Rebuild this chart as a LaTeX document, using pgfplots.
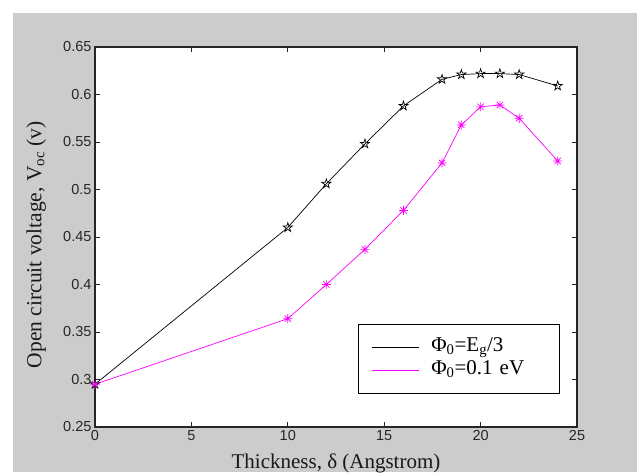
\documentclass[border=0pt]{standalone}
\usepackage{fontspec}
\setmainfont{Liberation Serif}
\newfontfamily\arialfont{Liberation Sans}
\usepackage{pgfplots}
\pgfplotsset{compat=1.18}
\definecolor{figgray}{RGB}{204,204,204}
\definecolor{mmag}{RGB}{255,0,255}
\pgfdeclareplotmark{pentagram}{%
  \pgfpathmoveto{\pgfpointpolar{90}{\pgfplotmarksize}}%
  \pgfpathlineto{\pgfpointpolar{126}{0.382\pgfplotmarksize}}%
  \pgfpathlineto{\pgfpointpolar{162}{\pgfplotmarksize}}%
  \pgfpathlineto{\pgfpointpolar{198}{0.382\pgfplotmarksize}}%
  \pgfpathlineto{\pgfpointpolar{234}{\pgfplotmarksize}}%
  \pgfpathlineto{\pgfpointpolar{270}{0.382\pgfplotmarksize}}%
  \pgfpathlineto{\pgfpointpolar{306}{\pgfplotmarksize}}%
  \pgfpathlineto{\pgfpointpolar{342}{0.382\pgfplotmarksize}}%
  \pgfpathlineto{\pgfpointpolar{18}{\pgfplotmarksize}}%
  \pgfpathlineto{\pgfpointpolar{54}{0.382\pgfplotmarksize}}%
  \pgfpathclose
  \pgfusepathqstroke}
\pgfdeclareplotmark{mast}{%
  \pgfpathmoveto{\pgfqpoint{-\pgfplotmarksize}{0pt}}\pgfpathlineto{\pgfqpoint{\pgfplotmarksize}{0pt}}%
  \pgfpathmoveto{\pgfqpoint{0pt}{-\pgfplotmarksize}}\pgfpathlineto{\pgfqpoint{0pt}{\pgfplotmarksize}}%
  \pgfpathmoveto{\pgfqpoint{-0.7\pgfplotmarksize}{-0.7\pgfplotmarksize}}\pgfpathlineto{\pgfqpoint{0.7\pgfplotmarksize}{0.7\pgfplotmarksize}}%
  \pgfpathmoveto{\pgfqpoint{-0.7\pgfplotmarksize}{0.7\pgfplotmarksize}}\pgfpathlineto{\pgfqpoint{0.7\pgfplotmarksize}{-0.7\pgfplotmarksize}}%
  \pgfusepathqstroke}
\begin{document}
\begin{tikzpicture}
\useasboundingbox (0,0) rectangle (637pt,472pt);
\fill[white] (0,0) rectangle (637pt,472pt);
\fill[figgray] (13pt,0) rectangle (637pt,459pt);
\begin{axis}[
  at={(95pt,45pt)}, anchor=south west,
  scale only axis, width=482pt, height=380pt,
  xmin=0, xmax=25, ymin=0.25, ymax=0.65,
  xtick={0,5,10,15,20,25},
  ytick={0.25,0.3,0.35,0.4,0.45,0.5,0.55,0.6,0.65},
  axis background/.style={fill=white},
  axis line style={line width=1.2pt, black!85},
  major tick length=5pt,
  tick style={line width=0.8pt, black!85},
  /pgf/number format/assume math mode=true,
  yticklabel style={/pgf/number format/fixed, /pgf/number format/precision=2},
  ticklabel style={font=\arialfont\fontsize{14.5}{16}\selectfont, text=black!85},
  xlabel={Thickness, δ (Angstrom)},
  ylabel={Open circuit voltage, V\textsubscript{oc} (v)},
  label style={font=\fontsize{21}{24}\selectfont, text=black!90},
  xlabel style={at={(axis description cs:0.5,0)}, anchor=center, yshift=-36pt},
  ylabel style={at={(axis description cs:-0.122,0.48)}, anchor=center, font=\fontsize{21.5}{24}\selectfont},
  legend image code/.code={\draw[#1] (0pt,0pt) -- (47pt,0pt);},
  legend cell align=left,
  legend style={at={(axis description cs:0.9647,0.0868)}, anchor=south east,
    draw=black, line width=1.2pt, fill=white,
    font=\fontsize{21}{24}\selectfont,
    inner xsep=13pt, inner ysep=13pt, row sep=3pt,
    nodes={line width=0.8pt, inner xsep=3pt, inner ysep=0pt, text height=14pt, text depth=6pt},
    /tikz/every odd column/.append style={column sep=9pt},
    /tikz/every even column/.append style={text width=112pt}},
]
\addplot[black, line width=0.7pt, mark=pentagram, mark size=4.8pt, mark options={line width=0.7pt}] coordinates {
 (0,0.295) (10,0.460) (12,0.506) (14,0.548) (16,0.588) (18,0.616) (19,0.621) (20,0.622) (21,0.622) (22,0.621) (24,0.609)
};
\addlegendentry{Φ\textsubscript{0}=E\textsubscript{g}/3}
\addplot[mmag, line width=0.7pt, mark=mast, mark size=4.5pt, mark options={line width=0.7pt}] coordinates {
 (0,0.295) (10,0.364) (12,0.400) (14,0.437) (16,0.478) (18,0.528) (19,0.568) (20,0.587) (21,0.589) (22,0.575) (24,0.530)
};
\addlegendentry{Φ\textsubscript{0}=0.1 eV}
\end{axis}
\end{tikzpicture}
\end{document}
